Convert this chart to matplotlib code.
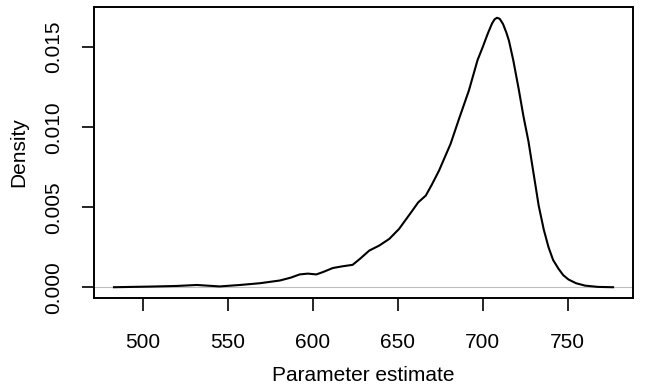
import matplotlib
matplotlib.use("Agg")
import matplotlib.pyplot as plt

# density curve
est = [482.8, 504, 520, 531.6, 545, 557, 568.8, 580.5, 587, 592.2, 597, 602,
       606, 611.7, 617, 623.4, 628, 633.2, 639, 645, 650.8, 658.6, 662, 666.5,
       670, 674.3, 678, 681.1, 686, 691.9, 697, 700, 703, 705.5, 707, 708.4,
       710, 712, 714, 715.5, 718, 721.2, 724, 727, 730, 733, 736, 738.8, 741.5,
       744.7, 747.5, 750.6, 755, 760.3, 768, 776.8]
dens = [0.0, 0.00004, 0.00008, 0.00014, 0.00005, 0.00014, 0.00025, 0.00042,
        0.0006, 0.0008, 0.00085, 0.0008, 0.00095, 0.0012, 0.0013, 0.0014,
        0.0018, 0.00229, 0.0026, 0.00302, 0.00365, 0.00479, 0.0053, 0.00573,
        0.0064, 0.00729, 0.0082, 0.00896, 0.0105, 0.0123, 0.0142, 0.0150,
        0.01585, 0.01648, 0.01674, 0.01684, 0.01678, 0.01645, 0.0159, 0.0154,
        0.0142, 0.0124, 0.0107, 0.0091, 0.0071, 0.0051, 0.0036, 0.0025,
        0.0017, 0.00115, 0.00075, 0.00048, 0.00025, 0.0001, 0.00002, 0.0]

xticks = [500, 550, 600, 650, 700, 750]
yticks = [0.0, 0.005, 0.010, 0.015]
ylabels = ["0.000", "0.005", "0.010", "0.015"]

plt.rcParams['font.family'] = ['Liberation Sans', 'DejaVu Sans']

fig = plt.figure(figsize=(6.47, 3.84), dpi=100)
ax = fig.add_axes([94/647, 1-298/384, (633-94)/647, (298-7)/384])

ax.axhline(0, color='#BEBEBE', lw=0.8, zorder=1)
ax.plot(est, dens, color='black', lw=1.5, zorder=2)

xr = max(est) - min(est)
ax.set_xlim(min(est) - 0.04*xr, max(est) + 0.04*xr)
yr = max(dens)
ax.set_ylim(-0.04*yr, yr*1.04)

ax.set_xticks(xticks)
ax.set_yticks(yticks)
ax.set_yticklabels(ylabels, rotation=90, va='center')
ax.tick_params(axis='both', length=9, width=1.2, labelsize=15)
ax.tick_params(axis='x', pad=16.5)
ax.tick_params(axis='y', pad=13.5)
for s in ax.spines.values():
    s.set_linewidth(1.4)

ax.set_xlabel("Parameter estimate", fontsize=15, labelpad=10)
ax.set_ylabel("Density", fontsize=15, labelpad=11)

fig.savefig("out.png", dpi=100)
